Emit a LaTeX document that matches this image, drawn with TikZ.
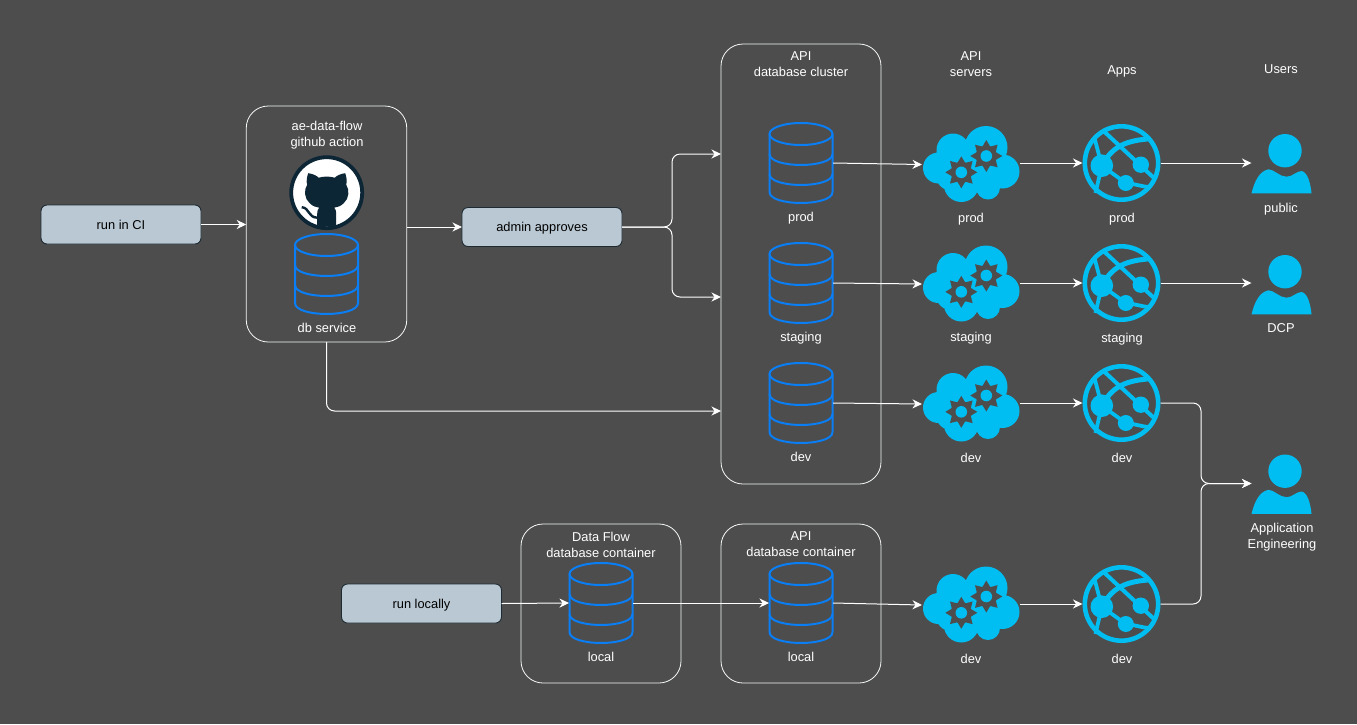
\documentclass[tikz,border=0pt]{standalone}
\usepackage{fontspec}
\setmainfont{Liberation Sans}
\usetikzlibrary{arrows.meta,calc}
\definecolor{bgc}{HTML}{4D4D4D}
\definecolor{dbblue}{HTML}{0A7EF5}
\definecolor{cyanicon}{HTML}{00BEF2}
\definecolor{boxfill}{HTML}{BAC8D3}
\definecolor{boxline}{HTML}{1E2B33}
\definecolor{ghdark}{HTML}{0D2636}
\tikzset{
  mlbl/.style={text=white,font=\fontsize{12.85}{16}\selectfont,align=center,inner sep=0pt},
  lbl/.style={mlbl,text height=10.5,text depth=0},
  stepbox/.style={draw=boxline,fill=boxfill,rounded corners=6,line width=0.9,minimum width=160,minimum height=39,inner sep=0pt,outer sep=0pt,text=black,font=\fontsize{12.85}{16}\selectfont,text height=9.5,text depth=0},
  iconbox/.style={inner sep=0pt,outer sep=0pt,draw=none},
  groupbox/.style={draw=white!85!boxfill,rounded corners=22,line width=0.8,inner sep=0pt,outer sep=0pt},
  conn/.style={draw=white,line width=1,-{Stealth[length=9.5,width=9,inset=3]}},
  dbline/.style={draw=dbblue,line width=2},
}
\newcommand\dbicon[3]{%
  \node[iconbox,minimum width=64,minimum height=80] (#1) at (#2,#3) {};
  \begin{scope}[shift={(#2,#3)}]
    \draw[dbline] (0,-29) ellipse [x radius=31.5,y radius=11];
    \draw[dbline] (-31.5,-29) -- (-31.5,29) .. controls (-31.5,43.6) and (31.5,43.6) .. (31.5,29) -- (31.5,-29);
    \draw[dbline] (-31.5,-9) .. controls (-31.5,5.6) and (31.5,5.6) .. (31.5,-9);
    \draw[dbline] (-31.5,11) .. controls (-31.5,25.6) and (31.5,25.6) .. (31.5,11);
  \end{scope}}
\newcommand\gearicon[2]{%
  \begin{scope}[shift={(#1,#2)}]
    \fill[bgc] (0,0) circle (10.5);
    \foreach \a in {0,45,...,315}{\fill[bgc] (\a-24:10) -- (\a:16) -- (\a+24:10) -- cycle;}
    \fill[cyanicon] (0,0) circle (5.8);
  \end{scope}}
\newcommand\cloudicon[3]{%
  \node[iconbox,minimum width=98,minimum height=76] (#1) at (#2,#3) {};
  \begin{scope}[shift={(#2,#3)}]
    \fill[cyanicon] (-18,-14.5) circle (16.5) (15,-17) circle (21.5) (31.5,7) circle (17)
      (-32.5,3.5) circle (15.5) (-9.7,20) circle (17.5) (17,23) circle (12) (0,2) circle (26)
      (-20,11) circle (15) (18,8) circle (15);
    \gearicon{-9.7}{7.8}
    \gearicon{15.3}{-8.5}
  \end{scope}}
\newcommand\globeicon[3]{%
  \node[iconbox,minimum width=78,minimum height=78] (#1) at (#2,#3) {};
  \begin{scope}[shift={(#2,#3)},draw=cyanicon,fill=cyanicon]
    \draw[line width=4.6] (0,0) circle (36.7);
    \draw[line width=4] (-19,-33) -- (33,15.5);
    \draw[line width=5] (-19.7,2.7) .. controls (-10,-15) and (2,-22) .. (26,-24);
    \draw[line width=3.8] (-19.7,2.7) -- (-27,-25);
    \draw[line width=3.8] (-19.7,2.7) -- (-26,30);
    \draw[line width=3.8] (-19.7,2.7) -- (4.3,20) .. controls (14,21) and (22,24) .. (28,24);
    \fill (-19.7,2.7) circle (11.3);
    \fill (19.3,1.7) circle (8.2);
    \fill (4.3,20) circle (8);
  \end{scope}}
\newcommand\personicon[3]{%
  \node[iconbox,minimum width=60,minimum height=60] (#1) at (#2,#3) {};
  \begin{scope}[shift={(#2,#3)}]
    \fill[cyanicon] (3.5,-12.3) circle (16.7);
    \fill[cyanicon] (-30,30.3) .. controls (-27,18) and (-22,8) .. (-13,6.3)
      .. controls (-8,6) and (-2,13.7) .. (5,13.7) .. controls (11,13.7) and (15,8) .. (20,8)
      .. controls (26,9) and (29,20) .. (30,30.3) -- cycle;
  \end{scope}}
\begin{document}
\begin{tikzpicture}[x=1pt,y=-1pt]
\useasboundingbox (0,0) rectangle (1357,724);
\fill[bgc] (0,0) rectangle (1357,724);
% group boxes
\node[groupbox,minimum width=160.5,minimum height=236] (gh) at (326.5,224) {};
\node[groupbox,minimum width=160,minimum height=440] (cluster) at (801,264) {};
\node[groupbox,minimum width=160,minimum height=159] (dfc) at (601,603.5) {};
\node[groupbox,minimum width=160,minimum height=159] (apic) at (801,603.5) {};
% step boxes
\node[stepbox] (ci) at (121,224.5) {run in CI};
\node[stepbox] (admin) at (542,227) {admin approves};
\node[stepbox] (localrun) at (421.5,603.5) {run locally};
% github logo
\node[iconbox,minimum width=74,minimum height=74] (ghlogo) at (326.7,192.7) {};
\begin{scope}[shift={(326.7,192.7)}]
  \fill[white,draw=ghdark,line width=3.8] (0,0) circle (35.5);
  \begin{scope}
    \clip (0,0) circle (34);
    \fill[ghdark] (-18.5,-19.5) .. controls (-14,-19) and (-10,-17) .. (-8,-15)
      .. controls (-3,-16.5) and (3,-16.5) .. (8,-15)
      .. controls (10,-17) and (14,-19) .. (18.5,-19.5)
      .. controls (20,-15) and (20.5,-11) .. (19.5,-8)
      .. controls (23,-3) and (22.5,6) .. (17,10.5)
      .. controls (14,13.5) and (11,14.5) .. (7.5,15)
      .. controls (9,16) and (9.5,19) .. (9.5,21) -- (9.5,38) -- (-9.5,38) -- (-9.5,21)
      .. controls (-9.5,19) and (-9,16) .. (-7.5,15)
      .. controls (-11,14.5) and (-14,13.5) .. (-17,10.5)
      .. controls (-22.5,6) and (-23,-3) .. (-19.5,-8)
      .. controls (-20.5,-11) and (-20,-15) .. (-18.5,-19.5) -- cycle;
    \draw[ghdark,line width=2.4] (-25,14.5) .. controls (-17,15) and (-19,25) .. (-9,25);
  \end{scope}
\end{scope}
% databases
\dbicon{dbsvc}{326.5}{274}
\dbicon{dbprod}{801}{163}
\dbicon{dbstag}{801}{283}
\dbicon{dbdev}{801}{403}
\dbicon{dblocala}{601}{603}
\dbicon{dblocalb}{801}{603}
% clouds
\cloudicon{cprod}{971}{164.5}
\cloudicon{cstag}{971}{284}
\cloudicon{cdev}{971}{404}
\cloudicon{cloc}{971}{605}
% globes
\globeicon{gprod}{1121.5}{163}
\globeicon{gstag}{1121.5}{283}
\globeicon{gdev}{1121.5}{403}
\globeicon{gloc}{1121.5}{604}
% persons
\personicon{ppublic}{1281.5}{163}
\personicon{pdcp}{1281.5}{284}
\personicon{pae}{1281.5}{483.5}
% junctions
\coordinate (adminj) at (672,227);
\coordinate (aej) at (1201,483.5);
\coordinate (svcturn) at (326.5,411);
% connectors
\draw[conn] (ci.east) -- (gh.west |- ci.east);
\draw[conn] (gh.east |- admin.west) -- (admin.west);
\draw[conn,rounded corners=8] (admin.east) -- (adminj) -- (adminj |- 0,154) -- (cluster.west |- 0,154);
\draw[conn,rounded corners=8] (admin.east) -- (adminj) -- (adminj |- 0,297) -- (cluster.west |- 0,297);
\draw[conn,rounded corners=8] (gh.south -| dbsvc) -- (svcturn) -- (cluster.west |- svcturn);
\draw[conn] (dbprod.east) -- (cprod.west);
\draw[conn] (dbstag.east) -- (cstag.west);
\draw[conn] (dbdev.east) -- (cdev.west);
\draw[conn] (cprod.east |- gprod.west) -- (gprod.west);
\draw[conn] (cstag.east |- gstag.west) -- (gstag.west);
\draw[conn] (cdev.east |- gdev.west) -- (gdev.west);
\draw[conn] (gprod.east) -- (ppublic.west);
\draw[conn] (gstag.east) -- (pdcp.west |- gstag.east);
\draw[conn,rounded corners=8] (gdev.east) -- (aej |- gdev.east) -- (aej) -- (pae.west);
\draw[conn,rounded corners=8] (gloc.east) -- (aej |- gloc.east) -- (aej) -- (pae.west);
\draw[conn] (localrun.east) -- (dblocala.west);
\draw[conn] (dblocala.east) -- (dblocalb.west);
\draw[conn] (dblocalb.east) -- (cloc.west);
\draw[conn] (cloc.east |- gloc.west) -- (gloc.west);
% labels
\node[mlbl] (t1) at (801,64.5) {API\\database cluster};
\node[mlbl] (t2) at (971,64) {API\\servers};
\node[lbl] (t3) at (1122,69.5) {Apps};
\node[lbl] (t4) at (1281,68.5) {Users};
\node[mlbl] (t5) at (327,135.5) {ae-data-flow\\github action};
\node[lbl] (t6) at (327,327.5) {db service};
\node[lbl] (l1) at (801,216.5) {prod};
\node[lbl] (l2) at (801,336.5) {staging};
\node[lbl] (l3) at (801,456.5) {dev};
\node[lbl] (l4) at (971,217.5) {prod};
\node[lbl] (l5) at (971,336.5) {staging};
\node[lbl] (l6) at (971,457.5) {dev};
\node[lbl] (l7) at (1122,217.5) {prod};
\node[lbl] (l8) at (1122,337.5) {staging};
\node[lbl] (l9) at (1122,457.5) {dev};
\node[lbl] (p1) at (1281,207) {public};
\node[lbl] (p2) at (1281,327.5) {DCP};
\node[mlbl] (p3) at (1282,537.5) {Application\\Engineering};
\node[mlbl] (d1) at (601,544.5) {Data Flow\\database container};
\node[mlbl] (d2) at (801,544.5) {API\\database container};
\node[lbl] (d3) at (601,656.5) {local};
\node[lbl] (d4) at (801,656.5) {local};
\node[lbl] (d5) at (971,658.5) {dev};
\node[lbl] (d6) at (1122,658.5) {dev};
\end{tikzpicture}
\end{document}
